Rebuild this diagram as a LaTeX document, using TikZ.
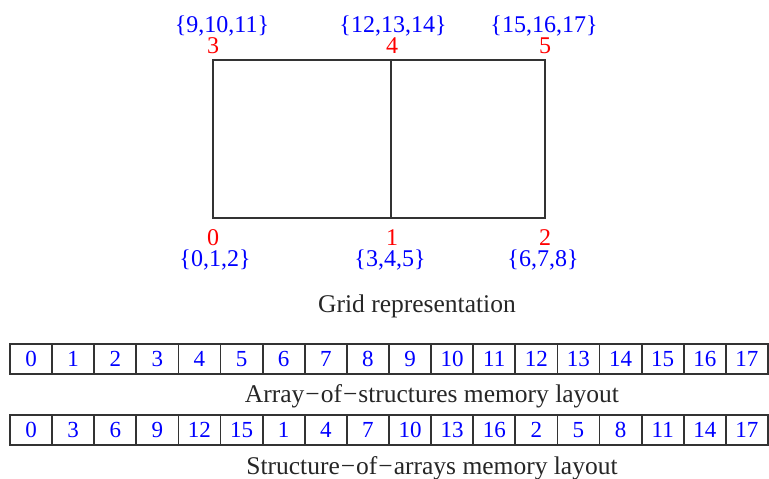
\documentclass[tikz,border=0pt]{standalone}
\usepackage{fontspec}
\setmainfont{Liberation Serif}
\begin{document}
\begin{tikzpicture}[x=1pt,y=-1pt,
  frame/.style={draw=black!80, line width=1.8pt},
  vid/.style={text=red, font=\fontsize{24}{24}\selectfont, anchor=base, inner sep=0pt},
  dof/.style={text=blue, font=\fontsize{24}{24}\selectfont, anchor=base, inner sep=0pt},
  caption/.style={text=black!85, font=\fontsize{25.5}{25.5}\selectfont, anchor=base, inner sep=0pt},
  cell/.style={draw=black!80, line width=1.8pt, minimum width=42.11pt, minimum height=30pt,
    inner sep=0pt, text=blue, font=\fontsize{23}{23}\selectfont}
]
\useasboundingbox (0,0) rectangle (769,479);
% grid
\coordinate (v0) at (213,218);
\coordinate (v1) at (391,218);
\coordinate (v2) at (545,218);
\coordinate (v3) at (213,60);
\coordinate (v4) at (391,60);
\coordinate (v5) at (545,60);
\draw[frame] (v0) rectangle (v5);
\draw[frame] (v1) -- (v4);
% vertex ids
\node[vid] (n3) at (213,53) {3};
\node[vid] (n4) at (392,53) {4};
\node[vid] (n5) at (545,53) {5};
\node[vid] (n0) at (213,245) {0};
\node[vid] (n1) at (392,245) {1};
\node[vid] (n2) at (545,245) {2};
% dof sets
\node[dof] (d3) at (222,32) {\{9,10,11\}};
\node[dof] (d4) at (393,32) {\{12,13,14\}};
\node[dof] (d5) at (544,32) {\{15,16,17\}};
\node[dof] (d0) at (215,266) {\{0,1,2\}};
\node[dof] (d1) at (390,266) {\{3,4,5\}};
\node[dof] (d2) at (543,266) {\{6,7,8\}};
\node[caption] (gridcap) at (417,312) {Grid representation};
% array of structures
\foreach \v [count=\i from 0] in {0,1,2,3,4,5,6,7,8,9,10,11,12,13,14,15,16,17}
  \node[cell] (a\i) at ({10+42.11*(\i+0.5)},359) {\v};
\node[caption] (aoscap) at (432,402) {Array\kern1pt−\kern1pt of\kern1pt−\kern1pt structures memory layout};
% structure of arrays
\foreach \v [count=\i from 0] in {0,3,6,9,12,15,1,4,7,10,13,16,2,5,8,11,14,17}
  \node[cell] (s\i) at ({10+42.11*(\i+0.5)},430) {\v};
\node[caption] (soacap) at (432,474) {Structure\kern1pt−\kern1pt of\kern1pt−\kern1pt arrays memory layout};
\end{tikzpicture}
\end{document}
